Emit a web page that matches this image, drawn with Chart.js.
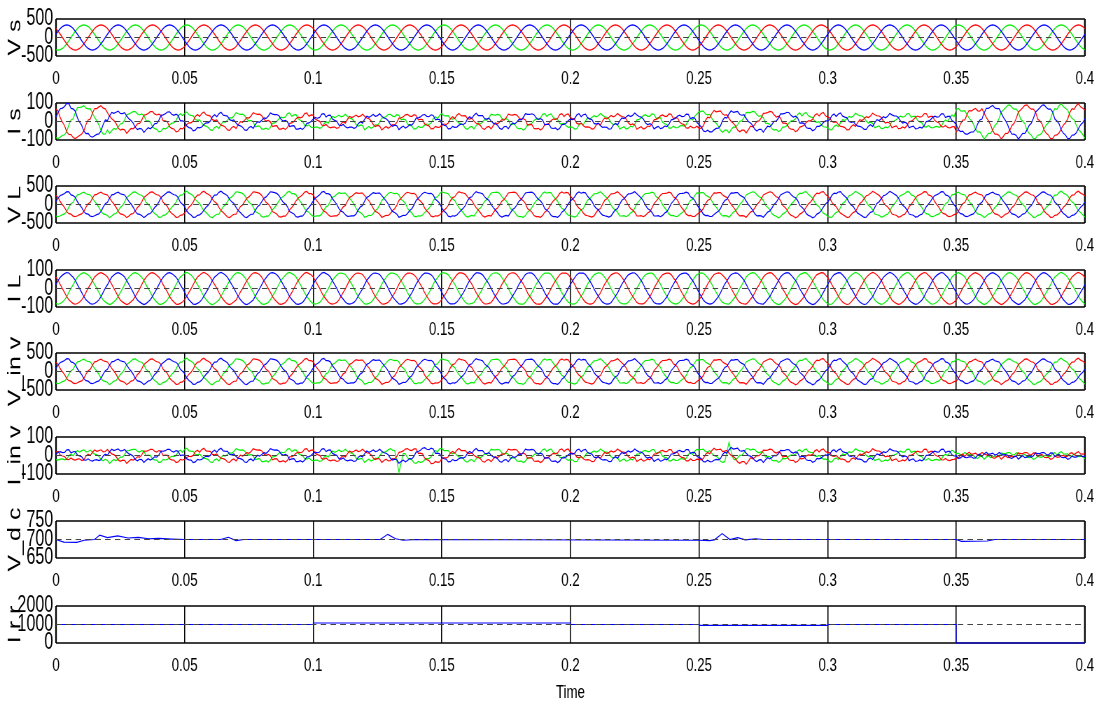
<!DOCTYPE html>
<html>
<head>
<meta charset="utf-8">
<title>Waveforms</title>
<script src="https://cdn.jsdelivr.net/npm/chart.js@4.4.0/dist/chart.umd.min.js"></script>
<style>
  body { margin: 0; background: #fff; width: 1102px; height: 706px; position: relative; overflow: hidden; }
  /* the figure text is tall and narrow: draw wide, squeeze horizontally */
  canvas { position: absolute; left: 0; transform: scaleX(0.7); transform-origin: 0 0; }
</style>
</head>
<body>
<canvas id="p0"></canvas>
<canvas id="p1"></canvas>
<canvas id="p2"></canvas>
<canvas id="p3"></canvas>
<canvas id="p4"></canvas>
<canvas id="p5"></canvas>
<canvas id="p6"></canvas>
<canvas id="p7"></canvas>

<script>
// time axis
var xTickValues = [0, 0.05, 0.1, 0.15, 0.2, 0.25, 0.3, 0.35, 0.4];
var xTickLabels = ['0', '0.05', '0.1', '0.15', '0.2', '0.25', '0.3', '0.35', '0.4'];

var panelNames = ['V s', 'I s', 'V L', 'I L', 'V_in v', 'I_in v', 'V_d c', 'I r r'];
var panelTops = [19, 103, 186, 270, 353, 437, 521, 606];
var yLimits = [[-500, 500], [-100, 100], [-500, 500], [-100, 100], [-500, 500], [-100, 100], [650, 750], [0, 2000]];
var yTicks = [[-500, 0, 500], [-100, 0, 100], [-500, 0, 500], [-100, 0, 100], [-500, 0, 500], [-100, 0, 100], [650, 700, 750], [0, 1000, 2000]];

// one 50 Hz cycle, 24 samples (15 deg steps)
var sineCycle = [0, 0.259, 0.5, 0.707, 0.866, 0.966, 1, 0.966, 0.866, 0.707, 0.5, 0.259,
                 0, -0.259, -0.5, -0.707, -0.866, -0.966, -1, -0.966, -0.866, -0.707, -0.5, -0.259];
var phaseShift = { blue: 1, red: 9, green: 17 };
// switching ripple / noise pattern (normalised)
var ripple = [0.0, 0.6, -0.4, 0.9, -0.7, 0.3, -1.0, 0.5, 0.8, -0.3, 0.2, -0.8, 1.0, -0.5, 0.4, -0.9, 0.1];

// peak values for every 10 ms
var vsAmp   = [340,340,340,340,340,340,340,340,340,340, 340,340,340,340,340,340,340,340,340,340,
               340,340,340,340,340,340,340,340,340,340, 340,340,340,340,340,340,340,340,340,340];
var isAmp   = [92,85,55,50,48, 42,40,40,38,38, 35,35,38,36,35, 35,36,35,38,36,
               35,36,38,36,35, 58,55,50,45,40, 38,36,35,36,35, 70,86,86,86,86];
var vlAmp   = [330,330,330,330,330,330,330,330,330,330, 330,330,330,330,330,330,330,330,330,330,
               330,330,330,330,330,330,330,330,330,330, 330,330,330,330,330,330,330,330,330,330];
var ilAmp   = [85,85,85,85,85,85,85,85,85,85, 85,85,85,85,85,85,85,85,85,85,
               85,85,85,85,85,85,85,85,85,85, 85,85,85,85,85,85,85,85,85,85];
var vinvAmp = [330,330,330,330,330,330,330,330,330,330, 330,330,330,330,330,330,330,330,330,330,
               330,330,330,330,330,330,330,330,330,330, 330,330,330,330,330,330,330,330,330,330];
var iinvAmp = [25,30,35,30,30, 30,30,30,30,30, 30,30,30,35,40, 30,30,30,30,30,
               28,28,28,28,28, 35,40,30,28,28, 28,28,28,28,28, 12,12,12,12,12];
var rippleSize = [0, 10, 28, 2, 28, 9];
// isolated swings in the inverter current: [time, phase, value]
var iinvSpikes = [[0.133, 'green', -90], [0.262, 'green', 72]];

// dc link voltage
var vdcT = [0, 0.003, 0.008, 0.011, 0.015, 0.017, 0.02, 0.024, 0.028, 0.032, 0.036, 0.04, 0.045, 0.05,
            0.064, 0.067, 0.070, 0.073, 0.126, 0.129, 0.132, 0.135, 0.14,
            0.25, 0.254, 0.256, 0.259, 0.262, 0.265, 0.268, 0.272, 0.275,
            0.35, 0.352, 0.362, 0.365, 0.4];
var vdcV = [700, 693, 692, 698, 700, 712, 705, 710, 704, 706, 702, 703, 701, 700,
            700, 706, 697, 700, 700, 714, 702, 698, 700,
            698, 697, 699, 716, 700, 705, 699, 702, 700,
            700, 695, 696, 700, 700];
var vdcRef = [700, 700];
// rectifier current
var irrT = [0, 0.1, 0.1, 0.2, 0.2, 0.25, 0.25, 0.3, 0.3, 0.35, 0.35, 0.4];
var irrV = [1000, 1000, 1080, 1080, 1000, 1000, 950, 950, 1000, 1000, 0, 0];
var irrRef = [1000, 1000];

var BLUE = '#0000ff', RED = '#ff0000', GREEN = '#00ee00';
var FONT = "'Liberation Sans', Arial, sans-serif";
var SQ = 0.7;                       // horizontal squeeze of the canvases
var W = Math.round(1102 / SQ);      // logical canvas width
var LEFT = 56 / SQ, RIGHT = 1086 / SQ;
var TOP_PAD = 20, PLOT_H = 37, AXIS_H = 34;

function threePhase(amp, rip) {
  var out = { blue: [], red: [], green: [] };
  var dt = 0.02 / 24;
  ['blue', 'red', 'green'].forEach(function (ph, k) {
    for (var n = 0; n <= 480; n++) {
      var seg = Math.min(39, Math.floor(n / 12));
      var y = amp[seg] * sineCycle[(n + phaseShift[ph]) % 24] + rip * ripple[(n * 7 + k * 5) % 17];
      out[ph].push({ x: n * dt, y: y });
    }
  });
  return out;
}

function line(data, color, dash) {
  return {
    data: data, borderColor: color, borderWidth: 1.2, pointRadius: 0, tension: 0,
    borderDash: dash || [], fill: false, clip: 2
  };
}

function refLine(y0, y1) {
  return line([{ x: 0, y: y0 }, { x: 0.4, y: y1 }], '#444', [8, 6]);
}

var boxPlugin = {
  id: 'box',
  beforeDatasetsDraw: function (chart) {
    var a = chart.chartArea, ctx = chart.ctx;
    ctx.save();
    ctx.strokeStyle = '#000';
    ctx.lineWidth = 1.6;
    ctx.beginPath();
    ctx.moveTo(a.left, a.top); ctx.lineTo(a.right, a.top);
    ctx.moveTo(a.left, a.bottom); ctx.lineTo(a.right, a.bottom);
    ctx.stroke();
    ctx.lineWidth = 1.6 / SQ;
    ctx.beginPath();
    ctx.moveTo(a.left, a.top); ctx.lineTo(a.left, a.bottom);
    ctx.moveTo(a.right, a.top); ctx.lineTo(a.right, a.bottom);
    ctx.stroke();
    ctx.restore();
  }
};

function makePanel(i, datasets) {
  var last = i === 7;
  var cv = document.getElementById('p' + i);
  var axisH = last ? AXIS_H + 30 : AXIS_H;
  var h = TOP_PAD + PLOT_H + axisH;
  cv.width = W; cv.height = h;
  cv.style.top = (panelTops[i] - TOP_PAD) + 'px';
  new Chart(cv, {
    type: 'line',
    data: { datasets: datasets },
    plugins: [boxPlugin],
    options: {
      responsive: false, animation: false, events: [],
      layout: { padding: { top: TOP_PAD, right: W - RIGHT, left: 0, bottom: 0 } },
      plugins: { legend: { display: false }, tooltip: { enabled: false } },
      scales: {
        x: {
          type: 'linear', min: 0, max: 0.4,
          afterBuildTicks: function (s) { s.ticks = xTickValues.map(function (v) { return { value: v }; }); },
          afterFit: function (s) { s.height = axisH; },
          ticks: {
            autoSkip: false, maxRotation: 0, padding: 11, color: '#000',
            font: { family: FONT, size: 19 },
            callback: function (v, idx) { return xTickLabels[idx]; }
          },
          grid: { color: '#000', lineWidth: 1.1 / SQ, drawTicks: false },
          border: { display: false },
          title: { display: last, text: 'Time', color: '#000', font: { family: FONT, size: 19 }, padding: { top: 4, bottom: 3 } }
        },
        y: {
          min: yLimits[i][0], max: yLimits[i][1],
          afterBuildTicks: function (s) { s.ticks = yTicks[i].map(function (v) { return { value: v }; }); },
          afterFit: function (s) { s.width = LEFT; },
          ticks: {
            autoSkip: false, padding: 4, color: '#000',
            font: { family: FONT, size: 23 },
            callback: function (v) { return String(v); }
          },
          grid: { display: false, drawTicks: false },
          border: { display: false },
          title: { display: true, text: panelNames[i], color: '#000', font: { family: FONT, size: 25 }, padding: { top: 7, bottom: 0 } }
        }
      }
    }
  });
}

var sets = [vsAmp, isAmp, vlAmp, ilAmp, vinvAmp, iinvAmp];
for (var i = 0; i < 6; i++) {
  var w = threePhase(sets[i], rippleSize[i]);
  if (i === 5) {
    iinvSpikes.forEach(function (sp) {
      var n = Math.round(sp[0] / (0.02 / 24));
      var s = w[sp[1]];
      s[n - 1].y = (s[n - 1].y + sp[2]) / 2;
      s[n].y = sp[2];
      s[n + 1].y = (s[n + 1].y + sp[2]) / 2;
    });
  }
  makePanel(i, [refLine(0, 0), line(w.blue, BLUE), line(w.red, RED), line(w.green, GREEN)]);
}

makePanel(6, [
  refLine(vdcRef[0], vdcRef[1]),
  line(vdcT.map(function (t, k) { return { x: t, y: vdcV[k] }; }), BLUE)
]);
makePanel(7, [
  refLine(irrRef[0], irrRef[1]),
  line(irrT.map(function (t, k) { return { x: t, y: irrV[k] }; }), BLUE)
]);
</script>
</body>
</html>
